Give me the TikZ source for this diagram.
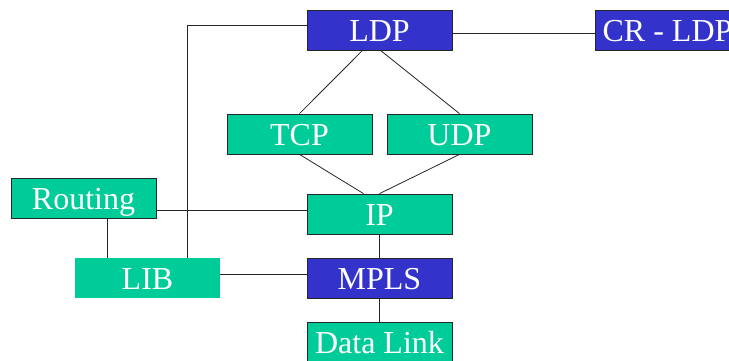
\documentclass[tikz,border=0pt]{standalone}
\usepackage{fontspec}
\setmainfont{Liberation Serif}
\usetikzlibrary{calc}
\definecolor{boxgreen}{HTML}{00CC99}
\definecolor{boxblue}{HTML}{3333CC}
\tikzset{
  layer/.style={minimum width=145pt, minimum height=40pt, inner sep=0pt,
    text height=26pt, text depth=4pt,
    text=white, font=\fontsize{32}{32}\selectfont, draw=black!85, line width=0.8pt},
  green/.style={layer, fill=boxgreen},
  blue/.style={layer, fill=boxblue},
  nobox/.style={draw=none},
  conn/.style={draw=black!85, line width=0.8pt}
}
\begin{document}
\begin{tikzpicture}[x=1pt,y=-1pt]
\useasboundingbox (0,0) rectangle (729,360);
\clip (0,0) rectangle (729,360);
\node[blue] (LDP) at (379.5,30) {LDP};
\node[blue] (CR) at (667.5,30) {CR - LDP};
\node[green] (TCP) at (299.5,134) {TCP};
\node[green] (UDP) at (459.5,134) {UDP};
\node[green] (IP) at (379.5,214) {IP};
\node[green] (Routing) at (83.5,198) {Routing};
\node[green,nobox] (LIB) at (147.5,278) {LIB};
\node[blue] (MPLS) at (379.5,278) {MPLS};
\node[green] (DL) at (379.5,342) {Data Link};
% connectors
\draw[conn] ([xshift=-17pt]LDP.south) -- (TCP.north);
\draw[conn] ([xshift=1pt]LDP.south) -- (UDP.north);
\draw[conn] (TCP.south) -- ([xshift=-16pt]IP.north);
\draw[conn] (UDP.south) -- (IP.north);
\draw[conn] ([yshift=-3pt]LDP.east) -- ([yshift=-3pt]CR.west);
\draw[conn] ([yshift=5pt]LDP.west) -| ([xshift=39.5pt]LIB.north);
\draw[conn] ([yshift=-12pt]Routing.east) -- ([yshift=4pt]IP.west);
\draw[conn] ([xshift=23.5pt]Routing.south) -- ([xshift=23.5pt]Routing.south |- LIB.north);
\draw[conn] ([yshift=4pt]LIB.east) -- ([yshift=4pt]MPLS.west);
\draw[conn] (IP.south) -- (MPLS.north);
\draw[conn] (MPLS.south) -- (DL.north);
\end{tikzpicture}
\end{document}
